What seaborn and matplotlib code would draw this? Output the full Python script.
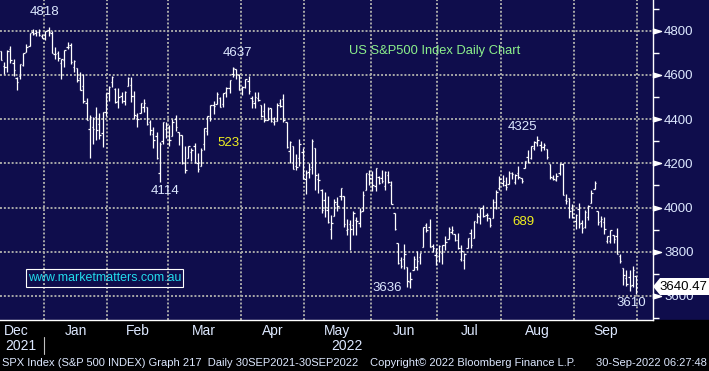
import matplotlib
matplotlib.use("Agg")
import matplotlib.pyplot as plt
from matplotlib.patches import Rectangle, Polygon
import numpy as np
import pandas as pd
import seaborn as sns

# S&P 500 daily bars, 13 Dec 2021 - 29 Sep 2022
holidays = ["2021-12-24", "2022-01-17", "2022-02-21", "2022-04-15",
            "2022-05-30", "2022-06-20", "2022-07-04", "2022-09-05"]

opens = [
    4710, 4642, 4637, 4719, 4653, 4587, 4594, 4645, 4703, 4733, 4795, 4789, 4795, 4776,
    4779, 4804, 4788, 4693, 4698, 4655, 4669, 4728, 4734, 4637, 4632, 4588, 4548, 4472, 4357, 4366, 4409, 4380, 4337, 4431,
    4519, 4567, 4535, 4483, 4505, 4480, 4548, 4553, 4506, 4413, 4429, 4455, 4456, 4385, 4333, 4325, 4155, 4299, 4354,
    4363, 4323, 4401, 4343, 4328, 4203, 4224, 4252, 4279, 4203, 4188, 4288, 4345, 4407, 4462, 4470, 4494, 4470, 4523, 4541, 4603, 4625, 4600,
    4541, 4547, 4573, 4495, 4475, 4495, 4462, 4437, 4395, 4449, 4386, 4390, 4473, 4489, 4385, 4256, 4279, 4187, 4222, 4253,
    4130, 4159, 4182, 4271, 4129, 4081, 4035, 3990, 3904, 3963, 4014, 4052, 4052, 3899, 3927, 3919, 3943, 3929, 3985, 4078, 4151,
    4149, 4096, 4137, 4134, 4097, 4148, 4102, 3974, 3838, 3763, 3765, 3729, 3665, 3716, 3733, 3775, 3821, 3920, 3913, 3826, 3786,
    3782, 3793, 3831, 3859, 3888, 3880, 3855, 3766, 3764, 3818, 3883, 3860, 3936, 3955, 3998, 3965, 3953, 3951, 4027, 4088,
    4113, 4104, 4107, 4154, 4116, 4155, 4134, 4181, 4227, 4225, 4270, 4290, 4281, 4273, 4266, 4195, 4134, 4126, 4154, 4199, 4034, 4041, 4000,
    3937, 3995, 3930, 3910, 3959, 4022, 4084, 3983, 3941, 3933, 3850, 3849, 3875, 3871, 3782, 3727, 3682, 3687, 3651, 3688,
]
highs = [
    4710, 4660, 4713, 4731, 4672, 4592, 4651, 4697, 4740, 4791, 4807, 4804, 4808, 4787,
    4797, 4819, 4798, 4726, 4708, 4673, 4715, 4749, 4744, 4666, 4632, 4612, 4603, 4495, 4418, 4411, 4454, 4429, 4432, 4516,
    4550, 4595, 4542, 4540, 4521, 4526, 4590, 4589, 4527, 4427, 4473, 4490, 4457, 4395, 4363, 4341, 4295, 4385, 4388,
    4375, 4401, 4417, 4343, 4329, 4277, 4278, 4268, 4291, 4247, 4271, 4358, 4412, 4466, 4481, 4522, 4501, 4520, 4546, 4576, 4637, 4627, 4603,
    4550, 4583, 4594, 4503, 4521, 4521, 4464, 4471, 4453, 4452, 4411, 4471, 4489, 4512, 4386, 4300, 4279, 4240, 4308, 4269,
    4170, 4200, 4308, 4271, 4158, 4082, 4069, 4050, 3965, 4039, 4046, 4090, 4052, 3946, 3944, 3982, 3955, 3999, 4076, 4158, 4169,
    4166, 4177, 4143, 4169, 4165, 4164, 4120, 3974, 3839, 3778, 3837, 3729, 3707, 3779, 3802, 3796, 3914, 3928, 3946, 3837, 3818,
    3829, 3832, 3870, 3910, 3918, 3880, 3885, 3829, 3796, 3863, 3902, 3939, 3975, 3999, 4013, 3976, 3954, 4040, 4078, 4141,
    4145, 4140, 4167, 4161, 4151, 4187, 4135, 4211, 4258, 4280, 4301, 4325, 4303, 4293, 4266, 4195, 4149, 4156, 4200, 4203, 4063, 4045, 4015,
    3970, 4019, 3942, 3987, 4010, 4077, 4120, 3985, 3962, 3957, 3873, 3900, 3877, 3907, 3790, 3727, 3716, 3717, 3736, 3688,
]
lows = [
    4667, 4606, 4611, 4655, 4597, 4531, 4583, 4639, 4703, 4733, 4780, 4778, 4775, 4766,
    4758, 4775, 4699, 4671, 4663, 4582, 4638, 4716, 4650, 4614, 4569, 4530, 4475, 4396, 4223, 4287, 4305, 4309, 4273, 4415,
    4484, 4545, 4471, 4451, 4471, 4465, 4548, 4477, 4401, 4365, 4429, 4430, 4374, 4328, 4268, 4221, 4115, 4287, 4315,
    4279, 4322, 4345, 4284, 4199, 4157, 4224, 4210, 4200, 4161, 4187, 4260, 4330, 4390, 4424, 4469, 4455, 4456, 4501, 4518, 4589, 4581, 4531,
    4507, 4539, 4514, 4451, 4451, 4483, 4408, 4387, 4395, 4387, 4372, 4390, 4455, 4385, 4268, 4201, 4175, 4168, 4188, 4128,
    4063, 4132, 4152, 4077, 4067, 3976, 3958, 3928, 3859, 3963, 3983, 4033, 3912, 3877, 3810, 3876, 3875, 3914, 3984, 4077, 4104,
    4074, 4074, 4107, 4110, 4081, 4110, 4017, 3900, 3743, 3725, 3723, 3640, 3637, 3716, 3717, 3743, 3821, 3889, 3820, 3800, 3738,
    3752, 3743, 3808, 3859, 3878, 3848, 3813, 3759, 3722, 3817, 3818, 3860, 3930, 3927, 3956, 3937, 3911, 3951, 3993, 4079,
    4096, 4079, 4107, 4129, 4108, 4128, 4112, 4177, 4201, 4219, 4262, 4277, 4255, 4262, 4219, 4129, 4124, 4120, 4147, 4057, 4017, 3954, 3954,
    3903, 3907, 3886, 3906, 3944, 4022, 4083, 3922, 3911, 3880, 3838, 3839, 3838, 3789, 3750, 3648, 3645, 3624, 3641, 3610,
]
closes = [
    4669, 4634, 4710, 4669, 4621, 4568, 4649, 4697, 4726, 4791, 4786, 4793, 4779, 4766,
    4797, 4794, 4701, 4696, 4677, 4670, 4713, 4726, 4659, 4663, 4577, 4533, 4483, 4398, 4410, 4356, 4350, 4327, 4432, 4516,
    4547, 4589, 4477, 4501, 4484, 4522, 4587, 4504, 4419, 4402, 4471, 4475, 4380, 4349, 4305, 4226, 4289, 4385, 4374,
    4306, 4387, 4363, 4329, 4201, 4171, 4278, 4260, 4204, 4173, 4262, 4358, 4412, 4463, 4461, 4512, 4456, 4520, 4543, 4576, 4632, 4602, 4530,
    4546, 4583, 4525, 4481, 4500, 4488, 4413, 4397, 4447, 4393, 4392, 4462, 4459, 4394, 4272, 4296, 4175, 4184, 4288, 4132,
    4155, 4175, 4300, 4147, 4123, 3991, 4001, 3935, 3930, 4024, 4008, 4089, 3924, 3901, 3901, 3974, 3941, 3979, 4058, 4158, 4132,
    4101, 4177, 4109, 4121, 4161, 4116, 4018, 3901, 3750, 3735, 3790, 3667, 3675, 3765, 3760, 3796, 3912, 3900, 3822, 3819, 3785,
    3825, 3831, 3845, 3903, 3899, 3854, 3819, 3802, 3790, 3863, 3831, 3937, 3960, 3999, 3962, 3967, 3921, 4024, 4072, 4130,
    4119, 4091, 4155, 4152, 4145, 4140, 4122, 4210, 4207, 4280, 4297, 4305, 4274, 4284, 4228, 4138, 4129, 4141, 4199, 4058, 4031, 3986, 3955,
    3967, 3924, 3908, 3980, 4006, 4067, 4110, 3933, 3946, 3901, 3873, 3900, 3856, 3790, 3758, 3693, 3655, 3647, 3719, 3640,
]
last_price = "3640.47"
month_names = ["Dec", "Jan", "Feb", "Mar", "Apr", "May", "Jun", "Jul", "Aug", "Sep"]
y_ticks = [3600, 3800, 4000, 4200, 4400, 4600, 4800]

NAVY = "#0f0d4c"
TXT = "#dde8ff"

sns.set_theme(style="dark", rc={"axes.facecolor": NAVY, "figure.facecolor": NAVY})
plt.rcParams["font.family"] = ["Liberation Sans", "DejaVu Sans"]

dates = pd.bdate_range("2021-12-13", "2022-09-29")
dates = dates[~dates.isin(pd.to_datetime(holidays))]
df = pd.DataFrame({"date": dates, "open": opens, "high": highs, "low": lows, "close": closes})
df["i"] = np.arange(len(df))

W, H = 709, 371
def fx(px):
    return px / W
def fy(py):
    return 1 - py / H

fig = plt.figure(figsize=(7.09, 3.71), dpi=100)
# black band at the bottom
fig.add_artist(Rectangle((0, 0), 1, fy(320), transform=fig.transFigure,
                         color="black", zorder=-1))
ax = fig.add_axes([0, fy(320), fx(653), 1 - fy(320)])

# month boundaries / centres from the dates
new_month = df["date"].dt.month.diff().fillna(1) != 0
starts = list(df.index[new_month]) + [len(df)]
bounds = [s - 0.5 for s in starts[1:]]
centres = [(a + b) / 2 - 0.5 for a, b in zip(starts[:-1], starts[1:])]
centres[0] = 4.7

# OHLC bars
ax.vlines(df["i"], df["low"], df["high"], color="white", lw=0.9)
ax.hlines(df["open"], df["i"] - 0.45, df["i"], color="white", lw=0.9)
ax.hlines(df["close"], df["i"], df["i"] + 0.45, color="white", lw=0.9)

ax.set_xlim(-0.3, 205.4)
ax.set_ylim(3491, 4939)

# grid
ax.set_xticks(bounds)
ax.set_xticklabels([])
ax.set_yticks(y_ticks)
ax.set_yticks(np.arange(3500, 5000, 200), minor=True)
ax.grid(True, which="major", color="#a8a8a8", lw=1.4, ls=(0, (1, 1)))
ax.grid(False, which="minor")
ax.yaxis.tick_right()
ax.tick_params(axis="x", which="major", length=4, width=1, color="white", direction="out")
ax.tick_params(axis="y", which="major", length=0, pad=8, labelsize=9.5, labelcolor=TXT)
ax.tick_params(axis="y", which="minor", length=4, width=1, color="white", direction="out")
for side in ["left", "top"]:
    ax.spines[side].set_visible(False)
for side in ["right", "bottom"]:
    ax.spines[side].set_color("white")
    ax.spines[side].set_linewidth(1)

# tick arrows on the price axis
ax.plot(np.ones(len(y_ticks)), y_ticks, ls="none", color="white",
        marker=[(0, -0.3), (1, 0), (0, 0.3), (0, -0.3)], markersize=11.5,
        transform=ax.get_yaxis_transform(), clip_on=False)

# month / year labels
for c, name in zip(centres, month_names):
    ax.text(c, -10.7 / 320, name, transform=ax.get_xaxis_transform(),
            ha="center", va="center", fontsize=10, color=TXT)
fig.text(fx(21), fy(346), "2021", ha="center", va="center", fontsize=10, color=TXT)
fig.text(fx(347), fy(346), "2022", ha="center", va="center", fontsize=10, color=TXT)
fig.add_artist(plt.Line2D([fx(43.5), fx(43.5)], [fy(337), fy(354)],
                          transform=fig.transFigure, color="#c0c0c0", lw=0.8))


def px_to_data(px, py):
    return px / 3.175, 4800 - (py - 30.7) / 0.221


# peak / trough labels
peaks = [("4818", 44, 12), ("4637", 237, 53), ("4114", 164, 191), ("3636", 386, 288),
         ("4325", 522, 127), ("3610", 630, 303)]
for s, px, py in peaks:
    ax.text(*px_to_data(px, py), s, ha="center", va="center", fontsize=9.5, color=TXT)
for s, px, py in [("523", 228, 143), ("689", 523, 222)]:
    ax.text(*px_to_data(px, py), s, ha="center", va="center", fontsize=9.5, color="#f0f020")
ax.text(*px_to_data(348, 51), "US S&P500 Index Daily Chart", ha="left", va="center",
        fontsize=9.3, color="#8cf08c")

# website box
fig.add_artist(Rectangle((fx(26), fy(287)), fx(157), fy(269) - fy(287),
                         transform=fig.transFigure, fill=False, ec="white", lw=0.8))
fig.text(fx(104.5), fy(278), "www.marketmatters.com.au", ha="center", va="center",
         fontsize=8.9, color="#22dcec")

# last price flag
fig.add_artist(Polygon([(fx(653), fy(286.5)), (fx(660), fy(278)), (fx(709), fy(278)),
                        (fx(709), fy(295)), (fx(660), fy(295))],
                       closed=True, transform=fig.transFigure, fc="white", ec="none"))
fig.text(fx(683.5), fy(286.5), last_price, ha="center", va="center", fontsize=9.5, color="black")

# footer
foot = dict(va="center", fontsize=8, color=TXT)
fig.text(fx(2), fy(363), "SPX Index (S&P 500 INDEX) Graph 217  Daily 30SEP2021-30SEP2022", ha="left", **foot)
fig.text(fx(370), fy(363), "Copyright\u00a9 2022 Bloomberg Finance L.P.", ha="left", **foot)
fig.text(fx(707), fy(363), "30-Sep-2022 06:27:48", ha="right", **foot)

fig.savefig("out.png", dpi=100, facecolor=NAVY)
